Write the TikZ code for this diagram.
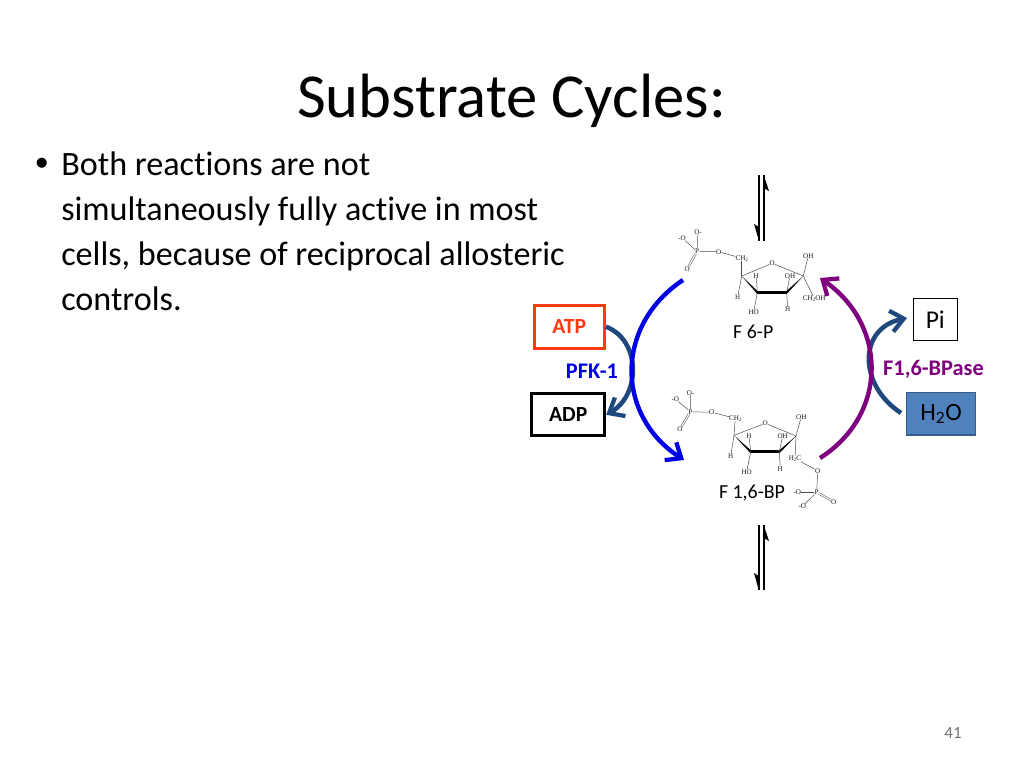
\documentclass[tikz,border=0pt]{standalone}
\usepackage{fontspec}
\setmainfont[Ligatures=NoCommon]{Carlito}
\newfontfamily\chemfont{Liberation Serif}
\newfontfamily\bulletfont{Liberation Sans}
\usetikzlibrary{arrows.meta}
\definecolor{pfkblue}{HTML}{0000E6}
\definecolor{enzpurple}{HTML}{7F007F}
\definecolor{cofblue}{HTML}{1F497D}
\definecolor{atpred}{HTML}{FF3A10}
\definecolor{waterfill}{HTML}{4F81BD}
\definecolor{waterline}{HTML}{385D8A}
\newcommand\chsub[1]{\raisebox{-0.7pt}{\fontsize{3.5}{4}\selectfont #1}}
\tikzset{
  x=0.703125pt,y=-0.703125pt,
  chem/.style={inner sep=0pt,font=\chemfont\fontsize{5}{5}\selectfont,text=black!90},
  bond/.style={line width=0.35pt,black!70},
  wedge/.style={line width=2.1pt,black,line join=round},
  lab/.style={inner sep=0pt,font=\fontsize{14}{16}\selectfont},
  enz/.style={inner sep=0pt,font=\bfseries\fontsize{15.7}{18}\selectfont},
  cof/.style={draw,inner sep=0pt,line width=2.1pt,font=\bfseries\fontsize{15.2}{18}\selectfont},
  curve/.style={line width=3.1pt,-{Straight Barb[length=9pt,width=15pt,line width=3pt]}},
  cofcurve/.style={curve,cofblue,line width=3.2pt},
  strand/.style={line width=1.5pt,black},
  barb/.style={fill=black,draw=none},
}
\begin{document}
\begin{tikzpicture}
\useasboundingbox (0,0) rectangle (1024,768);
% title and text
\node[inner sep=0pt,font=\fontsize{44}{50}\selectfont] (title) at (511.5,101) {Substrate Cycles:};
\node[inner sep=0pt,anchor=base west,font=\bulletfont\fontsize{26}{30}\selectfont] (bullet) at (35,176) {•};
\node[inner sep=0pt,anchor=north west,align=left,font=\fontsize{24}{31.64}\selectfont] (body) at (61,152)
  {Both reactions are not\\simultaneously fully active in most\\cells, because of reciprocal allosteric\\controls.};
\node[inner sep=0pt,font=\fontsize{12}{14}\selectfont,text=black!55] (page) at (953,733) {41};

% cofactor boxes
\node[cof,draw=atpred,text=atpred,minimum width=49.5pt,minimum height=30pt] (atp) at (569.3,326.7) {ATP};
\node[cof,draw=black,minimum width=51.3pt,minimum height=29.3pt] (adp) at (568.2,414.8) {ADP};
\node[draw=black,inner sep=0pt,line width=0.7pt,fill=white,minimum width=31pt,minimum height=29.5pt,font=\fontsize{18}{20}\selectfont] (pi) at (935.3,319.7) {Pi};
\node[draw=waterline,fill=waterfill,inner sep=0pt,line width=0.9pt,minimum width=48.5pt,minimum height=29.7pt,font=\fontsize{17.5}{20}\selectfont] (water) at (941.2,413.8) {H\textsubscript{2}O};
\node[enz,text=pfkblue] (pfk) at (592,371) {PFK-1};
\node[enz,text=enzpurple] (bpase) at (933.5,369) {F1,6-BPase};

% labels
\node[lab] (f6p) at (753.3,332) {F 6-P};
\node[lab] (fbp) at (752,493) {F 1,6-BP};

% free ends of the connectors
\coordinate (blueS) at (683,280);
\coordinate (blueE) at (684,460);
\coordinate (purpS) at (820,458);
\coordinate (purpE) at (820,278);
\coordinate (piEnd) at (907,318);
\coordinate (waterS) at (901,413);

% cofactor arrows
\draw[cofcurve] (atp.east) .. controls (641,340) and (641,395) .. (adp.east);
\draw[cofcurve] (waterS) .. controls (858,385) and (858,328) .. (piEnd);
% main arrows
\draw[curve,pfkblue] (blueS) .. controls (615,325) and (615,415) .. (blueE);
\draw[curve,enzpurple] (purpS) .. controls (888,415) and (888,325) .. (purpE);

% equilibrium arrows, top
\coordinate (t1a) at (759,241); \coordinate (t1b) at (759,175);
\coordinate (t2a) at (763.7,175); \coordinate (t2b) at (763.7,241);
\draw[strand] (t1a) -- (t1b);
\draw[strand] (t2a) -- (t2b);
\fill[barb] (763.7,175) -- (769,191) -- (763.7,188) -- cycle;
\fill[barb] (759,241) -- (754,224) -- (759,227) -- cycle;
% equilibrium arrows, bottom
\coordinate (b1a) at (758.7,590); \coordinate (b1b) at (758.7,525);
\coordinate (b2a) at (763.7,525); \coordinate (b2b) at (763.7,590);
\draw[strand] (b1a) -- (b1b);
\draw[strand] (b2a) -- (b2b);
\fill[barb] (763.7,525) -- (769,541) -- (763.7,538) -- cycle;
\fill[barb] (758.7,590) -- (754,573) -- (758.7,576) -- cycle;

% F 6-P structure
\node[chem] (a1) at (682,238) {-O};
\node[chem] (a2) at (698,232) {O-};
\node[chem] (a3) at (697,251.3) {P};
\node[chem] (a4) at (718.7,251.7) {O};
\node[chem] (a5) at (741.7,258.3) {CH\chsub{2}};
\node[chem] (a6) at (687.3,268.7) {O};
\node[chem] (a7) at (772.3,263.3) {O};
\node[chem] (a8) at (756.3,275.7) {H};
\node[chem] (a9) at (790,275.7) {OH};
\node[chem] (a10) at (808.3,255.7) {OH};
\node[chem] (a11) at (814.3,298.7) {CH\chsub{2}OH};
\node[chem] (a12) at (737.7,296.7) {H};
\node[chem] (a13) at (753.7,312) {HO};
\node[chem] (a14) at (787.7,309.3) {H};
\coordinate (ar1) at (741.7,276);
\coordinate (ar2) at (803.3,276);
\coordinate (ar3) at (786.7,292.3);
\coordinate (ar4) at (757.3,292.3);
\draw[bond] (a1) -- (a3);
\draw[bond] (a2) -- (a3);
\draw[bond] (a3) -- (a4);
\draw[bond] (a4) -- (a5);
\draw[bond] (a5) -- (ar1);
\draw[bond,double,double distance=0.8pt] (a3) -- (a6);
\draw[bond] (ar1) -- (a7);
\draw[bond] (a7) -- (ar2);
\draw[bond] (ar1) -- (a12);
\draw[bond] (ar4) -- (a8);
\draw[bond] (ar4) -- (a13);
\draw[bond] (ar3) -- (a9);
\draw[bond] (ar3) -- (a14);
\draw[bond] (ar2) -- (a10);
\draw[bond] (ar2) -- (a11);
\fill (ar1) -- (ar4) ++(0,-1.5) -- ++(0,3.2) -- (ar1) -- cycle;
\fill (ar2) -- (ar3) ++(0,-1.5) -- ++(0,3.2) -- (ar2) -- cycle;
\draw[wedge] (ar4) -- (ar3);

% F 1,6-BP structure
\node[chem] (c1) at (675.3,399) {-O};
\node[chem] (c2) at (690.7,392.7) {O-};
\node[chem] (c3) at (690.3,411.7) {P};
\node[chem] (c4) at (711.7,412.3) {O};
\node[chem] (c5) at (735.3,418.3) {CH\chsub{2}};
\node[chem] (c6) at (680,429.3) {O};
\node[chem] (c7) at (765.3,423.3) {O};
\node[chem] (c8) at (749,435.7) {H};
\node[chem] (c9) at (782.7,436) {OH};
\node[chem] (c10) at (801.3,416.7) {OH};
\node[chem] (c11) at (795,458.7) {H\chsub{2}C};
\node[chem] (c12) at (730.7,456) {H};
\node[chem] (c13) at (746.7,471.7) {HO};
\node[chem] (c14) at (780.3,469) {H};
\node[chem] (c15) at (817.7,470.7) {O};
\node[chem] (c16) at (816.7,492.3) {P};
\node[chem] (c17) at (797.3,492.3) {-O};
\node[chem] (c18) at (833.7,501.7) {O};
\node[chem] (c19) at (802.3,506.3) {-O};
\coordinate (cr1) at (734,435.3);
\coordinate (cr2) at (796,436);
\coordinate (cr3) at (779.3,451.7);
\coordinate (cr4) at (750.7,451.7);
\draw[bond] (c1) -- (c3);
\draw[bond] (c2) -- (c3);
\draw[bond] (c3) -- (c4);
\draw[bond] (c4) -- (c5);
\draw[bond] (c5) -- (cr1);
\draw[bond,double,double distance=0.8pt] (c3) -- (c6);
\draw[bond] (cr1) -- (c7);
\draw[bond] (c7) -- (cr2);
\draw[bond] (cr1) -- (c12);
\draw[bond] (cr4) -- (c8);
\draw[bond] (cr4) -- (c13);
\draw[bond] (cr3) -- (c9);
\draw[bond] (cr3) -- (c14);
\draw[bond] (cr2) -- (c10);
\draw[bond] (cr2) -- (c11);
\draw[bond] (c11) -- (c15);
\draw[bond] (c15) -- (c16);
\draw[bond] (c17) -- (c16);
\draw[bond] (c19) -- (c16);
\draw[bond,double,double distance=0.8pt] (c16) -- (c18);
\fill (cr1) -- (cr4) ++(0,-1.5) -- ++(0,3.2) -- (cr1) -- cycle;
\fill (cr2) -- (cr3) ++(0,-1.5) -- ++(0,3.2) -- (cr2) -- cycle;
\draw[wedge] (cr4) -- (cr3);
\end{tikzpicture}
\end{document}
